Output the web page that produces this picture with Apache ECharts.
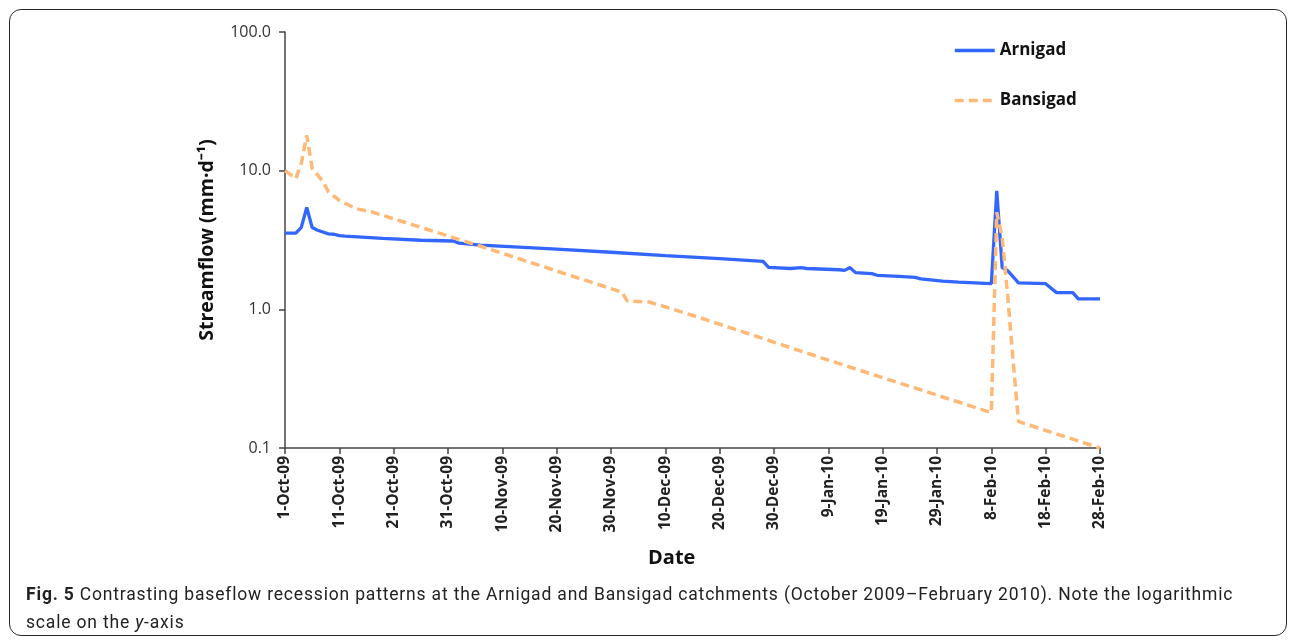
<!DOCTYPE html>
<html>
<head>
<meta charset="utf-8">
<title>Fig. 5 baseflow recession</title>
<script src="https://cdn.jsdelivr.net/npm/echarts@6/dist/echarts.min.js"></script>
<style>
  html, body { margin: 0; padding: 0; background: #fff; }
  #wrap { position: relative; width: 1296px; height: 644px; overflow: hidden; }
  #chart { position: absolute; left: 0; top: 0; width: 1296px; height: 644px; }
  .frame {
    position: absolute; left: 9px; top: 9px; width: 1276px; height: 625px;
    border: 1.5px solid #2a2a2a; border-radius: 12px; pointer-events: none;
  }
  .caption {
    position: absolute; left: 26px; top: 580px; width: 1240px;
    font-family: Roboto, "Noto Sans", sans-serif; font-size: 17.5px; line-height: 28px;
    letter-spacing: 0.82px; color: #222;
  }
  .caption b { font-weight: bold; }
</style>
</head>
<body>
<div id="wrap">
  <div id="chart"></div>
  <div class="frame"></div>
  <div class="caption"><b>Fig. 5</b> Contrasting baseflow recession patterns at the Arnigad and Bansigad catchments (October 2009–February 2010). Note the logarithmic scale on the <i>y</i>-axis</div>
</div>
<script>
// x = days since 1-Oct-09
var tickLabels = ['1-Oct-09', '11-Oct-09', '21-Oct-09', '31-Oct-09', '10-Nov-09', '20-Nov-09',
  '30-Nov-09', '10-Dec-09', '20-Dec-09', '30-Dec-09', '9-Jan-10', '19-Jan-10', '29-Jan-10',
  '8-Feb-10', '18-Feb-10', '28-Feb-10'];

var arnigadDays = [0, 2, 3, 4, 5, 6, 8, 9, 10, 11, 18, 25, 31, 32, 36, 50, 60, 70, 80, 88,
  89, 93, 95, 96, 102, 103, 104, 105, 108, 109, 113, 116, 117, 121, 124, 127, 130,
  131, 132, 133, 135, 140, 142, 145, 146, 150];
var arnigadFlow = [3.55, 3.55, 3.9, 5.42, 3.89, 3.72, 3.5, 3.48, 3.4, 3.37, 3.25, 3.15, 3.11, 3.0, 2.9,
  2.72, 2.58, 2.44, 2.32, 2.22,
  2.01, 1.97, 2.0, 1.97, 1.93, 1.91, 2.0, 1.84, 1.81, 1.76, 1.73, 1.7, 1.66, 1.6, 1.57, 1.55, 1.53,
  7.15, 2.0, 1.9, 1.55, 1.53, 1.32, 1.32, 1.19, 1.19];

var bansigadDays = [0, 2, 3, 4, 5, 7, 8, 10, 13, 16, 36, 62, 63, 67, 69, 76, 100, 130,
  131, 132, 133, 134, 135, 150];
var bansigadFlow = [10.0, 8.77, 11.3, 18.0, 10.4, 8.32, 7.04, 6.1, 5.33, 5.04, 2.85, 1.33, 1.15, 1.13,
  1.07, 0.88, 0.43, 0.18,
  5.0, 3.3, 1.27, 0.43, 0.155, 0.1];

function pairs(xs, ys) {
  return xs.map(function (x, i) { return [x, ys[i]]; });
}

var chart = echarts.init(document.getElementById('chart'));
chart.setOption({
  animation: false,
  grid: { left: 285, right: 196, top: 32, bottom: 196 },
  legend: {
    orient: 'vertical',
    left: 948, top: 37,
    itemWidth: 40, itemHeight: 14, itemGap: 33,
    itemStyle: { opacity: 0 },
    lineStyle: { width: 3.5 },
    textStyle: { fontFamily: 'Open Sans', fontWeight: 'bold', fontSize: 17, color: '#111' },
    data: ['Arnigad', 'Bansigad']
  },
  xAxis: {
    type: 'value',
    min: 0, max: 150, interval: 10,
    axisLine: { lineStyle: { color: '#444', width: 1.5 } },
    axisTick: { show: true, length: 6, lineStyle: { color: '#444', width: 1.5 } },
    splitLine: { show: false },
    axisLabel: {
      rotate: 90, margin: 8,
      fontFamily: 'Open Sans', fontWeight: 'bold', fontSize: 15.5, color: '#222',
      formatter: function (v) { return tickLabels[Math.round(v / 10)]; }
    }
  },
  yAxis: {
    type: 'log', logBase: 10,
    min: 0.1, max: 100,
    name: 'Streamflow (mm·d⁻¹)',
    nameLocation: 'middle', nameGap: 68,
    nameTextStyle: { fontFamily: 'Open Sans', fontWeight: 'bold', fontSize: 19.5, color: '#111' },
    axisLine: { show: true, lineStyle: { color: '#444', width: 1.5 } },
    axisTick: { show: true, length: 6, lineStyle: { color: '#444', width: 1.5 } },
    splitLine: { show: false },
    axisLabel: {
      margin: 14,
      fontFamily: 'Open Sans', fontSize: 16, color: '#333',
      formatter: function (v) { return Number(v).toFixed(1); }
    }
  },
  graphic: [{
    type: 'text', left: 648, top: 548,
    style: { text: 'Date', font: 'bold 20px "Open Sans"', fill: '#111' }
  }],
  series: [{
    name: 'Arnigad',
    type: 'line',
    showSymbol: false,
    symbol: 'none',
    color: '#3366FF',
    lineStyle: { width: 3.3, color: '#3366FF' },
    data: pairs(arnigadDays, arnigadFlow)
  }, {
    name: 'Bansigad',
    type: 'line',
    showSymbol: false,
    symbol: 'none',
    color: '#FFB977',
    lineStyle: { width: 3.5, color: '#FFB977', type: [9, 5] },
    data: pairs(bansigadDays, bansigadFlow)
  }]
});
</script>
</body>
</html>
